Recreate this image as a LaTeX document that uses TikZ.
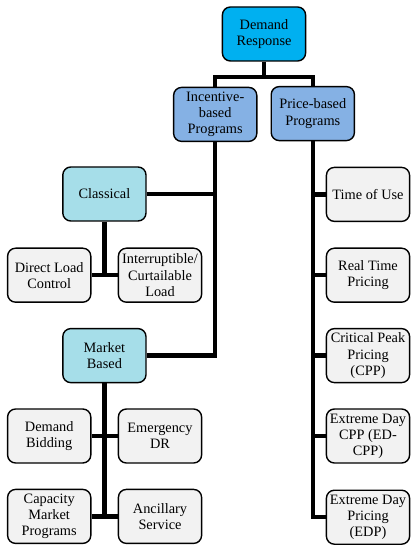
\documentclass[tikz,border=0pt]{standalone}
\usepackage{fontspec}
\setmainfont{Liberation Serif}
\definecolor{drblue}{HTML}{00B0F0}
\definecolor{progblue}{HTML}{85B1E4}
\definecolor{subcyan}{HTML}{A6DEE9}
\definecolor{leafgray}{HTML}{F2F2F2}
\begin{document}
\begin{tikzpicture}[
		box/.style = {draw, line width=1pt, rounded corners=0.2cm, minimum width=2.08cm, minimum height=1.35cm, align=center, font=\fontsize{10.2}{11.5}\selectfont, inner sep=1pt},
		top/.style = {box, fill=drblue},
		prog/.style = {box, fill=progblue},
		sub/.style = {box, fill=subcyan},
		leaf/.style = {box, fill=leafgray},
		link/.style = {line width=3pt}
	]
		\useasboundingbox (0,0) rectangle (10.35,-13.75);
		\node (dr) at (6.6,-0.85)[top]  {Demand\\Response};
		\node (inc) at (5.38,-2.86)[prog]  {Incentive-\\based\\Programs};
		\node (price) at (7.82,-2.84)[prog]  {Price-based\\Programs};
		\node (cls) at (2.61,-4.85)[sub]  {Classical};
		\node (mkt) at (2.61,-8.89)[sub]  {Market\\Based};
		\node (dlc) at (1.23,-6.88)[leaf]  {Direct Load\\Control};
		\node (icl) at (4.0,-6.88)[leaf]  {Interruptible/\\Curtailable\\Load};
		\node (dbd) at (1.23,-10.9)[leaf]  {Demand\\Bidding};
		\node (edr) at (4.0,-10.9)[leaf]  {Emergency\\DR};
		\node (cap) at (1.23,-12.91)[leaf]  {Capacity\\Market\\Programs};
		\node (anc) at (4.0,-12.91)[leaf]  {Ancillary\\Service};
		\node (tou) at (9.2,-4.86)[leaf]  {Time of Use};
		\node (rtp) at (9.2,-6.88)[leaf]  {Real Time\\Pricing};
		\node (cpp) at (9.2,-8.89)[leaf]  {Critical Peak\\Pricing\\(CPP)};
		\node (edcpp) at (9.2,-10.9)[leaf]  {Extreme Day\\CPP (ED-\\CPP)};
		\node (edp) at (9.2,-12.93)[leaf]  {Extreme Day\\Pricing\\(EDP)};
		% top split
		\draw[link] (dr.south) -- ++(0,-0.38) coordinate (split);
		\draw[link] (inc.north) |- (split) -| (price.north);
		% incentive side
		\draw[link] (inc.south) |- (mkt.east);
		\draw[link] (cls.east) -- (cls.east -| inc);
		\draw[link] (cls.south) -- (cls |- dlc);
		\draw[link] (dlc.east) -- (icl.west);
		\draw[link] (mkt.south) -- (mkt |- cap);
		\draw[link] (dbd.east) -- (edr.west);
		\draw[link] (cap.east) -- (anc.west);
		% price side
		\draw[link] (price.south) |- (edp.west);
		\draw[link] (tou.west -| price) -- (tou.west);
		\draw[link] (rtp.west -| price) -- (rtp.west);
		\draw[link] (cpp.west -| price) -- (cpp.west);
		\draw[link] (edcpp.west -| price) -- (edcpp.west);
	\end{tikzpicture}
\end{document}
